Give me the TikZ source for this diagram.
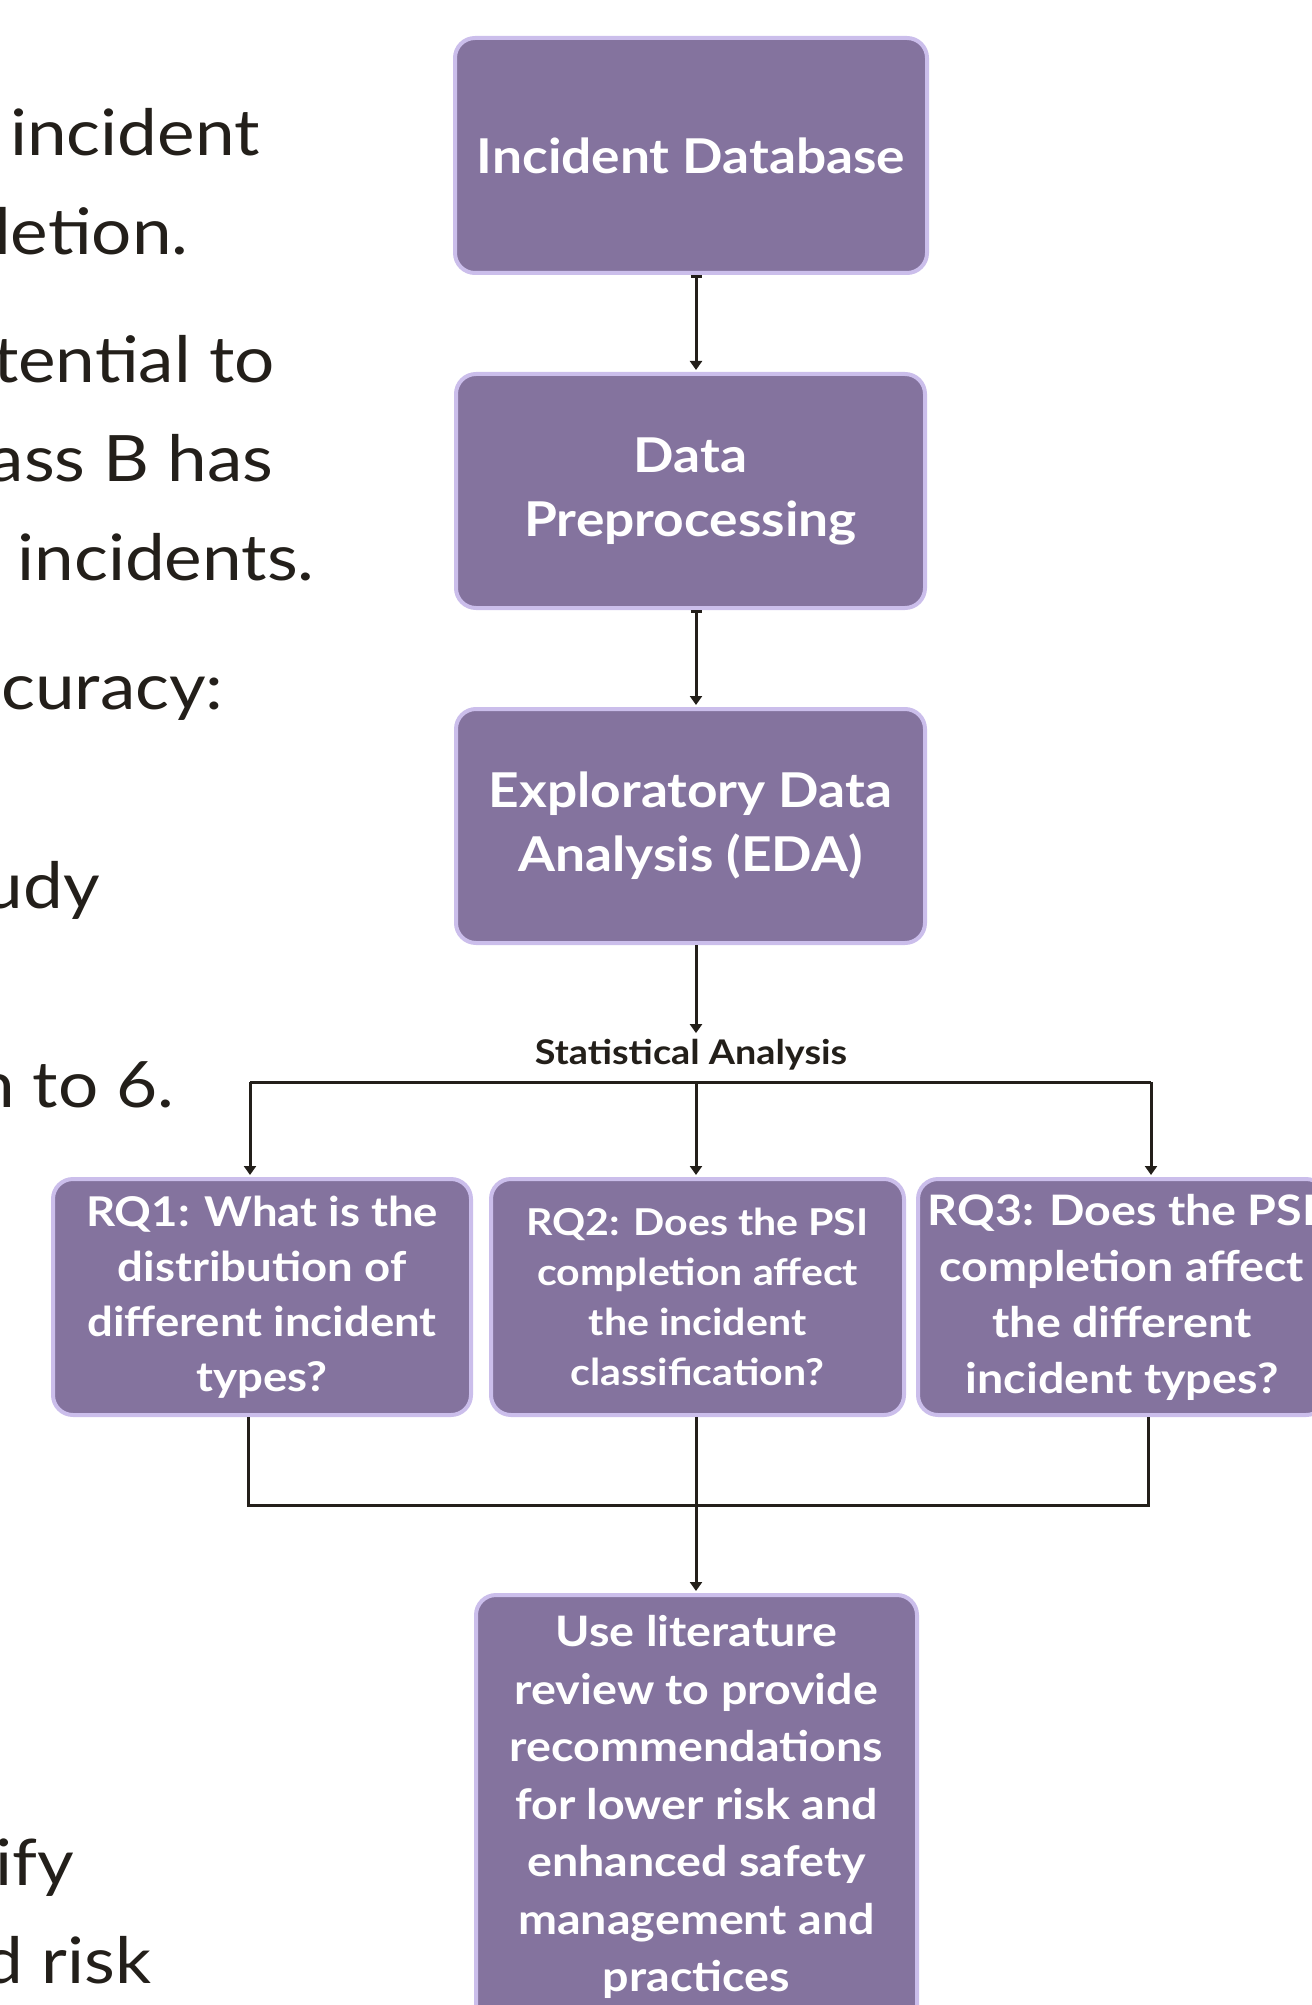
\documentclass[tikz,border=0pt]{standalone}
\usepackage{fontspec}
\setmainfont{Lato}[FakeStretch=1.11]
\usetikzlibrary{arrows.meta}
\definecolor{purp}{RGB}{132,115,158}
\definecolor{lav}{RGB}{203,190,235}
\definecolor{ink}{RGB}{35,31,26}
\tikzset{
  pbox/.style={draw=lav, fill=purp, line width=2pt, rounded corners=10pt, inner sep=0pt,
    text=white, align=center},
  conn/.style={draw=ink, line width=1.5pt},
  arr/.style={conn, -{Triangle[width=6pt,length=4.5pt]}},
  bararr/.style={conn, {Bar[width=5.5pt]}-{Triangle[width=6pt,length=4.5pt]}},
  side/.style={anchor=base east, text=ink, inner sep=0pt, font=\fontsize{32}{40}\selectfont},
}
\begin{document}
\begin{tikzpicture}[x=0.5pt,y=-0.5pt]
\useasboundingbox (0,0) rectangle (1311,2005);
% left side text (cut off)
\node[side] (t1) at (260,156) {incident};
\node[side] (t2) at (189,255) {letion.};
\node[side] (t3) at (275,383) {tential to};
\node[side] (t4) at (274,482) {ass B has};
\node[side] (t5) at (315,581) {incidents.};
\node[side] (t6) at (224,709) {curacy:};
\node[side] (t7) at (100,908) {udy};
\node[side] (t8) at (175,1107) {n to 6.};
\node[side] (t9) at (74,1885) {ify};
\node[side] (t10) at (152,1983) {d risk};
% boxes
\node[pbox, minimum width=236pt, minimum height=117.5pt, font=\bfseries\fontsize{24}{32}\selectfont] (b1) at (691,155.5) {Incident Database};
\node[pbox, minimum width=234.5pt, minimum height=117pt, font=\bfseries\fontsize{24}{32}\selectfont] (b2) at (690.5,491) {Data\\Preprocessing};
\node[pbox, minimum width=234.5pt, minimum height=117pt, font=\bfseries\fontsize{24}{32}\selectfont] (b3) at (690.5,826) {Exploratory Data\\Analysis (EDA)};
\node[pbox, minimum width=209pt, minimum height=118pt, font=\bfseries\fontsize{20.5}{27.5}\selectfont] (rq1) at (262,1297) {RQ1: What is the\\distribution of\\different incident\\types?};
\node[pbox, minimum width=206.5pt, minimum height=118pt, font=\bfseries\fontsize{18.5}{25}\selectfont] (rq2) at (697.5,1297) {RQ2: Does the PSI\\completion affect\\the incident\\classification?};
\node[pbox, minimum width=204pt, minimum height=118pt, font=\bfseries\fontsize{21}{28}\selectfont] (rq3) at (1122,1297) {RQ3: Does the PSI\\completion affect\\the different\\incident types?};
\node[pbox, minimum width=220.5pt, minimum height=231.5pt] (b4) at (696.5,1826.5) {};
\node[text=white, align=center, inner sep=0pt, font=\bfseries\fontsize{21}{28.75}\selectfont] (b4t) at (696.5,1807) {Use literature\\review to provide\\recommendations\\for lower risk and\\enhanced safety\\management and\\practices};
% label
\node[text=ink, inner sep=0pt, font=\bfseries\fontsize{17}{22}\selectfont] (sa) at (691,1055) {Statistical Analysis};
% coordinates
\coordinate (ax) at (696,0);
\coordinate (j1) at (696,1082);
\coordinate (j1l) at (250,1082);
\coordinate (j1r) at (1151,1082);
\coordinate (j2) at (696,1505);
\coordinate (j2l) at (248,1505);
\coordinate (j2r) at (1148,1505);
% connectors
\draw[bararr, shorten >=1pt] (b1.south -| ax) -- (b2.north -| ax);
\draw[bararr, shorten >=1pt] (b2.south -| ax) -- (b3.north -| ax);
\draw[arr] (b3.south -| ax) -- ([yshift=3pt]sa.north -| ax);
\draw[conn] (j1l) -- (j1r);
\draw[arr, shorten >=1pt] (j1l) -- (rq1.north -| j1l);
\draw[arr, shorten >=1pt] (j1) -- (rq2.north -| j1);
\draw[arr, shorten >=1pt] (j1r) -- (rq3.north -| j1r);
\draw[conn] (rq1.south -| j2l) -- (j2l) -- (j2r) -- (rq3.south -| j2r);
\draw[arr, shorten >=1pt] (rq2.south -| j2) -- (b4.north -| j2);
\end{tikzpicture}
\end{document}
